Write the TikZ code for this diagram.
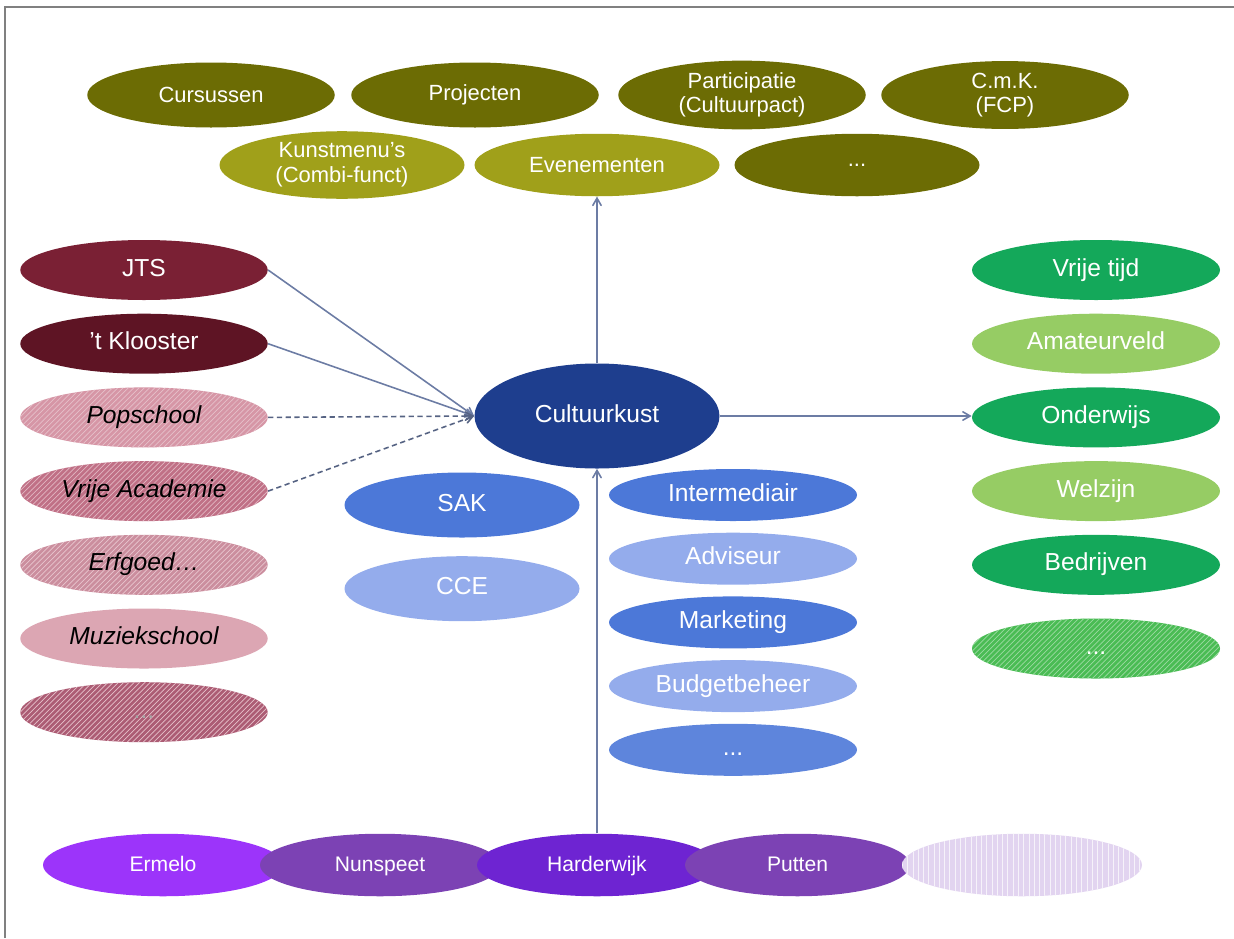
\documentclass[tikz,border=0pt]{standalone}
\usepackage{fontspec}
\setmainfont{Liberation Sans}
\usepackage{xcolor}
\usetikzlibrary{shapes,arrows,positioning,patterns}

\definecolor{olivedark}{RGB}{108,108,4}
\definecolor{olivelight}{RGB}{160,160,26}
\definecolor{wine}{RGB}{122,32,52}
\definecolor{winedark}{RGB}{94,20,36}
\definecolor{rosea}{RGB}{214,150,166}
\definecolor{roseb}{RGB}{192,112,134}
\definecolor{rosec}{RGB}{172,92,116}
\definecolor{hubblue}{RGB}{30,62,142}
\definecolor{midblue}{RGB}{76,120,216}
\definecolor{paleblue}{RGB}{148,172,236}
\definecolor{sectgreen}{RGB}{20,168,90}
\definecolor{palegreen}{RGB}{150,204,100}
\definecolor{hatchgreen}{RGB}{74,188,84}
\definecolor{purplea}{RGB}{156,52,250}
\definecolor{purpleb}{RGB}{124,66,180}
\definecolor{purplec}{RGB}{110,36,210}
\definecolor{lavender}{RGB}{226,212,240}
\definecolor{linkgray}{RGB}{108,124,164}

\begin{document}
\begin{tikzpicture}[
    node distance=0.26cm,
    >={angle 60},
    item/.style={ellipse, inner sep=1pt, text=white, align=center, font=\fontsize{14}{16}\selectfont},
    oneline/.style={text height=1.6ex, text depth=0.3ex},
    offer/.style={item, minimum width=4.95cm, minimum height=1.3cm, fill=olivedark, font=\fontsize{12.5}{14}\selectfont},
    partner/.style={item, oneline, minimum width=4.95cm, minimum height=1.2cm},
    hatched/.style={postaction={pattern=north east lines, pattern color=#1}},
    hub/.style={item, oneline, minimum width=4.9cm, minimum height=2.1cm, fill=hubblue},
    task/.style={item, oneline, minimum width=4.96cm, minimum height=1.04cm},
    sector/.style={item, oneline, minimum width=4.96cm, minimum height=1.2cm},
    town/.style={item, oneline, minimum width=4.8cm, minimum height=1.25cm, font=\fontsize{12}{14}\selectfont},
    link/.style={->, draw=linkgray, line width=0.9pt},
    weaklink/.style={->, draw=linkgray!80!black, line width=0.9pt, densely dashed}
]
\useasboundingbox (0,0) rectangle (24.68,-18.76);

% frame
\draw[gray, line width=0.8pt] (0.1,-18.76) -- (0.1,-0.14) -- (24.68,-0.14);

% Offer - top rows
\node[offer] (cursus) at (4.22,-1.9) {Cursussen};
\node[offer] (project) at (9.5,-1.9) {Projecten};
\node[offer] (partic) at (14.84,-1.9) {Participatie\\(Cultuurpact)};
\node[offer] (cmk) at (20.1,-1.9) {C.m.K.\\(FCP)};
\node[offer, fill=olivelight, minimum width=4.9cm, minimum height=1.25cm] (menu) at (6.84,-3.3) {Kunstmenu's\\(Combi-funct)};
\node[offer, fill=olivelight, minimum width=4.9cm, minimum height=1.25cm] (event) at (11.94,-3.3) {Evenementen};
\node[offer, minimum width=4.9cm, minimum height=1.25cm] (offermore) at (17.14,-3.3) {...};

% Partners - left column
\node[partner, fill=wine] (jts) at (2.88,-5.4) {JTS};
\node[partner, fill=winedark, below=of jts] (klooster) {'t Klooster};
\node[partner, fill=rosea, hatched=rosea!60!white, text=black, below=of klooster] (pop) {\itshape Popschool};
\node[partner, fill=roseb, hatched=rosea!70!white, text=black, below=of pop] (vrije) {\itshape Vrije Academie};
\node[partner, fill=rosea!95!black, hatched=rosea!55!white, text=black, below=of vrije] (erfgoed) {\itshape Erfgoed\dots};
\node[partner, fill=rosea!85!white, text=black, below=of erfgoed] (muziek) {\itshape Muziekschool};
\node[partner, fill=rosec, hatched=rosea!60!white, text=gray!70, below=of muziek] (partnermore) {...};

% Hub
\node[hub] (kust) at (11.94,-8.32) {Cultuurkust};

% Hub roles
\node[task, fill=midblue, minimum width=4.7cm, minimum height=1.3cm] (sak) at (9.24,-10.1) {SAK};
\node[task, fill=paleblue, minimum width=4.7cm, minimum height=1.3cm, below=0.36cm of sak] (cce) {CCE};
\node[task, fill=midblue] (inter) at (14.66,-9.9) {Intermediair};
\node[task, fill=paleblue, below=0.22cm of inter] (advies) {Adviseur};
\node[task, fill=midblue, below=0.22cm of advies] (market) {Marketing};
\node[task, fill=paleblue, below=0.22cm of market] (budget) {Budgetbeheer};
\node[task, fill=midblue!90!white, below=0.22cm of budget] (taskmore) {...};

% Sectors - right column
\node[sector, fill=sectgreen] (vrijetijd) at (21.92,-5.4) {Vrije tijd};
\node[sector, fill=palegreen, below=of vrijetijd] (amateur) {Amateurveld};
\node[sector, fill=sectgreen, below=of amateur] (onderwijs) {Onderwijs};
\node[sector, fill=palegreen, below=of onderwijs] (welzijn) {Welzijn};
\node[sector, fill=sectgreen, below=of welzijn] (bedrijf) {Bedrijven};
\node[sector, fill=hatchgreen, hatched=hatchgreen!55!white, below=of bedrijf, yshift=-0.2cm] (sectormore) {...};

% Towns - bottom row
\node[town, fill=purplea] (ermelo) at (3.26,-17.3) {Ermelo};
\node[town, fill=purpleb] (nunspeet) at (7.6,-17.3) {Nunspeet};
\node[town, fill=purplec] (harder) at (11.94,-17.3) {Harderwijk};
\node[town, fill=purpleb, minimum width=4.5cm] (putten) at (15.95,-17.3) {Putten};
\node[town, fill=lavender, postaction={pattern=vertical lines, pattern color=white!70!lavender}] (townmore) at (20.44,-17.3) {};

% Connections
\draw[link] (kust.north) -- (event.south);
\draw[link] (harder.north) -- (kust.south);
\draw[link] (kust.east) -- (kust.east -| onderwijs.west);
\draw[link] (jts.east) -- (kust.west);
\draw[link] (klooster.east) -- (kust.west);
\draw[weaklink] (pop.east) -- (kust.west);
\draw[weaklink] (vrije.east) -- (kust.west);

\end{tikzpicture}
\end{document}
